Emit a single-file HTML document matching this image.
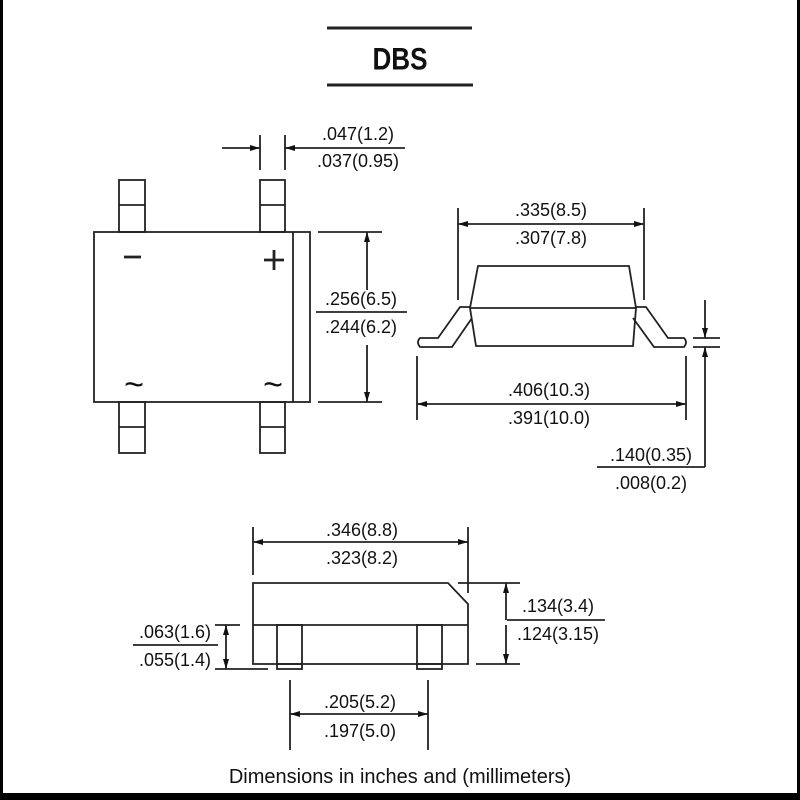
<!DOCTYPE html>
<html><head><meta charset="utf-8"><style>
html,body{margin:0;padding:0;background:#fff;}
svg{display:block;}
text{font-family:"Liberation Sans",sans-serif;font-size:18px;fill:#111;text-anchor:middle;}
</style></head><body>
<svg width="800" height="800" viewBox="0 0 800 800" xmlns="http://www.w3.org/2000/svg">
<defs>
<marker id="a" viewBox="0 0 10 6" refX="10" refY="3" markerWidth="15" markerHeight="6" markerUnits="userSpaceOnUse" orient="auto"><path d="M0,0L10,3L0,6z" fill="#111"/></marker>
</defs>
<rect x="0" y="0" width="800" height="800" fill="#fff"/>
<rect x="0" y="0" width="3" height="800" fill="#000"/>
<rect x="797" y="0" width="3" height="800" fill="#000"/>
<rect x="0" y="793" width="800" height="7" fill="#000"/>
<g stroke="#222" stroke-width="3"><line x1="327" y1="28" x2="472" y2="28"/><line x1="327" y1="85" x2="473" y2="85"/></g>
<text x="400" y="69" transform="translate(400 0) scale(0.9 1.1) translate(-400 -6)" style="font-size:29px;font-weight:bold">DBS</text>
<g fill="none" stroke="#222" stroke-width="1.8">
<rect x="94" y="232" width="216" height="170"/><line x1="293" y1="232" x2="293" y2="402"/>
<rect x="119" y="180" width="26" height="52"/><line x1="119" y1="205" x2="145" y2="205"/>
<rect x="260" y="180" width="25" height="52"/><line x1="260" y1="205" x2="285" y2="205"/>
<rect x="119" y="402" width="26" height="51"/><line x1="119" y1="427" x2="145" y2="427"/>
<rect x="260" y="402" width="25" height="51"/><line x1="260" y1="427" x2="285" y2="427"/>
<line x1="260" y1="135" x2="260" y2="170"/><line x1="285" y1="135" x2="285" y2="170"/>
<line x1="222" y1="148" x2="260" y2="148" marker-end="url(#a)"/>
<line x1="405" y1="148" x2="285" y2="148" marker-end="url(#a)"/>
<line x1="318" y1="232" x2="382" y2="232"/><line x1="318" y1="402" x2="382" y2="402"/>
<line x1="367" y1="290" x2="367" y2="232" marker-end="url(#a)"/>
<line x1="367" y1="345" x2="367" y2="402" marker-end="url(#a)"/>
<line x1="316" y1="312" x2="407" y2="312"/>
<path d="M478,266 L629,266 L636,308 L633,346 L476,346 L470,308 Z"/>
<line x1="470" y1="308" x2="636" y2="308"/>
<path d="M470,307 L460,307 L438,338 L420,338 Q416,342 420,347 L452,347 L472,318"/>
<path d="M636,307 L646,307 L668,338 L684,338 Q688,342 684,347 L654,347 L633,318"/>
<line x1="458" y1="208" x2="458" y2="300"/><line x1="644" y1="208" x2="644" y2="300"/>
<line x1="551" y1="224" x2="458" y2="224" marker-end="url(#a)"/>
<line x1="551" y1="224" x2="644" y2="224" marker-end="url(#a)"/>
<line x1="417" y1="356" x2="417" y2="420"/><line x1="686" y1="356" x2="686" y2="420"/>
<line x1="551" y1="404" x2="417" y2="404" marker-end="url(#a)"/>
<line x1="551" y1="404" x2="686" y2="404" marker-end="url(#a)"/>
<line x1="693" y1="338" x2="720" y2="338"/><line x1="693" y1="347" x2="720" y2="347"/>
<line x1="705" y1="300" x2="705" y2="338" marker-end="url(#a)"/>
<line x1="705" y1="467" x2="705" y2="347" marker-end="url(#a)"/>
<line x1="597" y1="467" x2="705" y2="467"/>
<path d="M253,583 L448,583 L468,604 L468,664 L253,664 Z"/>
<line x1="253" y1="625" x2="468" y2="625"/>
<rect x="277" y="625" width="25" height="44"/><line x1="277" y1="664" x2="302" y2="664"/>
<rect x="417" y="625" width="25" height="44"/><line x1="417" y1="664" x2="442" y2="664"/>
<line x1="253" y1="527" x2="253" y2="575"/><line x1="468" y1="527" x2="468" y2="593"/>
<line x1="360" y1="542" x2="253" y2="542" marker-end="url(#a)"/>
<line x1="360" y1="542" x2="468" y2="542" marker-end="url(#a)"/>
<line x1="458" y1="583" x2="520" y2="583"/><line x1="476" y1="664" x2="520" y2="664"/>
<line x1="506" y1="620" x2="506" y2="583" marker-end="url(#a)"/>
<line x1="506" y1="625" x2="506" y2="664" marker-end="url(#a)"/>
<line x1="507" y1="620" x2="605" y2="620"/>
<line x1="215" y1="625" x2="240" y2="625"/><line x1="215" y1="669" x2="268" y2="669"/>
<line x1="226" y1="647" x2="226" y2="625" marker-end="url(#a)"/>
<line x1="226" y1="647" x2="226" y2="669" marker-end="url(#a)"/>
<line x1="133" y1="645" x2="218" y2="645"/>
<line x1="290" y1="680" x2="290" y2="750"/><line x1="428" y1="680" x2="428" y2="750"/>
<line x1="360" y1="714" x2="290" y2="714" marker-end="url(#a)"/>
<line x1="360" y1="714" x2="428" y2="714" marker-end="url(#a)"/>
</g>
<g stroke="#222" stroke-width="2.8"><line x1="124" y1="257" x2="141" y2="257"/><line x1="264" y1="260" x2="284" y2="260"/><line x1="274" y1="250" x2="274" y2="270"/></g>
<text x="134" y="396" style="font-size:34px">~</text><text x="273" y="396" style="font-size:34px">~</text>
<text x="358" y="140">.047(1.2)</text><text x="358" y="167">.037(0.95)</text>
<text x="361" y="305">.256(6.5)</text><text x="361" y="333">.244(6.2)</text>
<text x="551" y="216">.335(8.5)</text><text x="551" y="244">.307(7.8)</text>
<text x="549" y="396">.406(10.3)</text><text x="549" y="424">.391(10.0)</text>
<text x="651" y="461">.140(0.35)</text><text x="651" y="489">.008(0.2)</text>
<text x="362" y="536">.346(8.8)</text><text x="362" y="564">.323(8.2)</text>
<text x="558" y="612">.134(3.4)</text><text x="558" y="640">.124(3.15)</text>
<text x="175" y="638">.063(1.6)</text><text x="175" y="666">.055(1.4)</text>
<text x="360" y="708">.205(5.2)</text><text x="360" y="737">.197(5.0)</text>
<text x="400" y="783" style="font-size:20px">Dimensions in inches and (millimeters)</text>
</svg>
</body></html>
